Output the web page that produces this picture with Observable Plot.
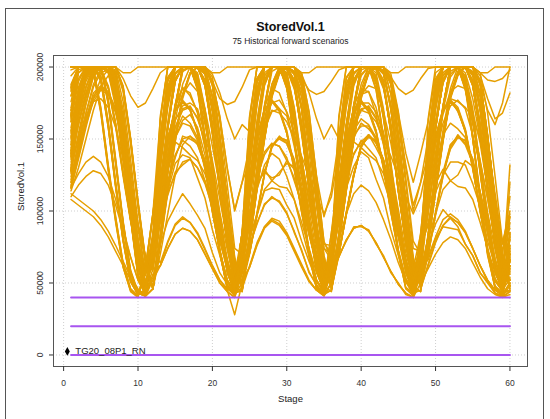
<!DOCTYPE html>
<html>
<head>
<meta charset="utf-8">
<script src="https://cdn.jsdelivr.net/npm/d3@7"></script>
<script src="https://cdn.jsdelivr.net/npm/@observablehq/plot@0.6"></script>
<style>
  html, body { margin: 0; padding: 0; background: #fff; }
  #wrap { position: relative; width: 550px; height: 419px; overflow: hidden; }
  #outer { position: absolute; left: 5px; top: 8px; width: 539px; height: 420px; border: 1px solid #555; box-sizing: border-box; }
  #chart { position: absolute; left: 0; top: 0; }
  text { font-family: "Liberation Sans", Arial, sans-serif; }
</style>
</head>
<body>
<div id="wrap"><div id="outer"></div><div id="chart"></div></div>
<script>
// ---- Text ----
const chartTitle = "StoredVol.1";
const chartSubtitle = "75 Historical forward scenarios";
const xTitle = "Stage";
const yTitle = "StoredVol.1";
const xTicks = [0, 10, 20, 30, 40, 50, 60];
const yTicks = [0, 50000, 100000, 150000, 200000];

// ---- Reference levels (purple) and marker ----
const thresholdLevels = [40000, 20000, 0];
const thresholdStages = [1, 60];
const markerStage = [0.5];
const markerValue = [2500];
const markerLabel = ["TG20_08P1_RN"];

// ---- Stages ----
const stages = d3.range(1, 61);

// ---- Scenario values, in thousands, stages 1..60 ----
const sc01 = [165,200,200,200,192,160,118,80,52,42,44,70, 140,185,200,200,200,200,190,160,118,78,48,85, 122,163,196,200,200,200,200,186,148,106,66,46, 84,130,174,200,200,200,200,191,150,104,63,48, 80,116,152,182,197,200,195,170,128,84,53,52];
const sc02 = [140,172,196,200,200,200,200,186,150,106,66,46, 76,113,148,178,195,200,197,174,133,88,56,52, 71,99,126,146,150,147,133,110,84,61,46,58, 108,148,168,175,171,156,131,101,73,53,45,66, 148,190,200,200,200,186,152,111,74,47,42,62];
const sc03 = [185,200,200,200,200,176,134,92,58,43,41,46, 83,129,172,200,200,200,200,188,150,107,65,48, 79,117,151,181,196,200,197,172,131,87,54,52, 81,127,170,198,200,200,200,189,151,105,62,47, 70,97,124,144,153,147,136,113,85,61,47,60];
const sc04 = [128,168,198,200,200,200,196,150,96,55,43,80, 166,200,200,200,200,194,168,128,88,57,43,70, 131,176,200,200,200,187,149,107,69,46,43,45, 72,99,124,146,151,149,134,111,87,63,48,58, 138,183,200,200,200,200,189,161,117,77,48,85];
const sc05 = [200,200,200,198,170,130,94,62,45,41,60,98, 142,186,200,200,200,200,191,158,116,77,47,85, 163,200,200,200,200,196,171,131,91,59,45,70, 151,193,200,200,200,184,151,109,71,46,41,62, 121,161,194,200,200,200,200,187,151,109,69,46];
const sc06 = [118,140,162,180,186,182,170,148,118,90,68,60, 110,150,170,176,170,155,130,100,72,52,44,66, 150,192,200,200,200,185,150,110,72,46,42,62, 96,131,159,171,172,164,147,121,91,63,47,44, 78,114,149,179,195,200,196,173,131,86,56,54];
const sc07 = [150,178,195,200,198,186,160,126,94,72,61,78, 132,176,200,200,200,189,151,109,71,48,44,45, 84,130,173,200,200,200,200,189,150,106,63,48, 77,114,151,181,195,200,197,171,129,85,54,52, 69,98,126,143,151,149,134,111,85,62,46,57];
const sc08 = [168,200,200,200,190,158,116,79,51,42,45,72, 64,79,91,96,92,84,73,62,52,46,42,50, 82,128,171,200,200,200,200,190,153,107,64,48, 79,116,150,181,196,200,196,172,130,86,55,52, 80,127,172,200,200,200,200,189,150,104,62,70];
const sc09 = [138,170,194,200,200,200,200,184,148,104,64,46, 70,98,125,146,152,148,135,112,86,62,47,58, 111,151,170,177,171,154,129,99,71,51,44,66, 164,200,200,200,200,196,171,131,89,57,44,70, 129,174,200,200,200,189,151,109,71,48,43,45];
const sc10 = [183,200,200,200,200,178,136,93,59,44,41,46, 79,116,151,180,196,200,195,171,129,85,54,52, 61,77,89,94,91,84,73,62,51,45,42,50, 83,129,173,200,200,200,200,191,151,105,63,48, 84,131,173,200,200,200,200,188,149,103,61,48];
const sc11 = [126,166,197,200,200,200,197,152,98,56,44,80, 112,151,169,177,171,156,131,101,71,52,44,66, 139,184,200,200,200,200,191,161,119,79,49,85, 119,159,196,200,200,200,200,189,149,107,67,46, 63,79,90,96,92,85,74,62,51,45,42,50];
const sc12 = [200,200,200,196,168,128,92,61,44,40,58,96, 151,191,200,200,200,186,151,111,73,47,42,62, 94,129,157,169,171,166,149,123,93,65,48,44, 79,115,149,178,196,200,197,173,132,87,56,52, 72,99,127,146,152,146,133,110,84,60,46,59];
const sc13 = [200,200,200,200,200,200,200,196,196,200,200,200, 200,200,200,200,200,200,200,196,196,200,200,200, 200,200,200,200,200,200,200,196,196,200,200,200, 200,200,200,200,200,200,200,196,196,200,200,200, 200,200,200,200,200,200,200,196,196,200,200,200];
const sc14 = [180,196,200,200,200,200,200,192,180,172,175,185, 196,200,200,200,200,200,200,190,178,174,176,186, 198,200,200,200,200,200,200,192,184,181,183,190, 198,200,200,200,200,200,200,193,185,181,184,192, 199,200,200,200,200,200,200,196,191,190,192,198];
const sc15 = [116,138,160,176,184,181,168,146,117,89,67,58, 96,131,158,171,173,164,149,122,92,64,47,44, 82,127,172,200,200,200,200,190,151,106,64,48, 77,115,149,180,197,200,196,171,129,86,55,52, 82,129,171,200,200,200,200,190,153,107,65,82];
const sc16 = [152,180,196,200,197,185,158,124,93,71,60,78, 141,184,200,200,200,200,189,159,117,79,48,85, 166,200,200,200,200,194,169,129,89,58,44,70, 109,149,171,175,169,156,129,99,72,51,44,66, 139,186,200,200,200,200,190,160,119,78,48,85];
const sc17 = [162,200,200,200,194,162,120,82,53,43,45,70, 121,161,196,200,200,200,200,187,151,107,67,46, 62,78,89,95,93,85,74,63,52,45,41,50, 81,129,172,200,200,200,200,190,151,106,64,48, 79,116,150,179,196,200,196,172,130,86,55,52];
const sc18 = [142,174,197,200,200,200,200,187,151,107,67,46, 82,128,172,200,200,200,200,190,152,106,64,48, 70,98,125,145,151,149,136,112,86,62,47,58, 95,129,158,170,173,165,148,121,92,64,48,44, 83,128,172,200,200,200,200,190,152,106,64,48];
const sc19 = [186,200,200,200,200,175,133,91,57,43,41,46, 78,114,150,181,196,200,196,172,129,86,55,52, 71,97,126,145,152,147,135,111,86,63,47,58, 110,150,170,176,171,155,130,100,72,52,44,66, 131,175,200,200,200,188,150,108,70,47,43,45];
const sc20 = [130,170,199,200,200,200,195,148,95,54,42,80, 150,192,200,200,200,185,150,110,72,46,42,62, 110,149,170,177,170,156,131,100,72,52,44,66, 120,160,195,200,200,200,200,188,150,108,68,46, 62,78,90,95,92,85,74,62,52,45,42,50];
const sc21 = [200,200,200,199,172,132,96,63,46,41,61,98, 164,200,200,200,200,195,170,130,90,58,44,70, 140,185,200,200,200,200,190,160,118,78,48,85, 130,175,200,200,200,188,150,108,70,47,43,45, 82,128,172,200,200,200,200,190,152,106,64,48];
const sc22 = [148,176,194,200,199,187,161,127,95,73,62,78, 110,150,170,176,170,155,130,100,72,52,44,66, 165,200,200,200,200,195,170,130,90,58,44,70, 150,192,200,200,200,185,150,110,72,46,42,62, 112,152,171,177,172,157,131,102,73,53,45,67];
const sc23 = [167,200,200,200,191,158,117,80,51,42,44,70, 130,175,200,200,200,188,150,108,70,47,43,45, 78,115,150,180,196,200,196,172,130,86,55,52, 82,128,172,200,200,200,200,190,152,106,64,48, 76,113,148,178,194,200,195,170,128,84,54,50];
const sc24 = [120,142,164,182,187,183,171,149,119,91,69,60, 62,78,90,95,92,85,74,62,52,45,28,50, 61,76,88,93,90,83,72,61,51,45,41,50, 70,98,125,145,152,148,135,112,86,62,47,58, 110,150,170,176,170,155,130,100,72,52,44,66];
const sc25 = [139,171,195,200,200,200,200,185,149,105,65,46, 81,127,171,200,200,200,200,189,151,105,63,48, 83,129,173,200,200,200,200,191,153,107,65,48, 78,115,150,180,196,200,196,172,130,86,55,52, 82,128,172,200,200,200,200,190,152,106,64,80];
const sc26 = [127,167,197,200,200,200,196,151,97,56,43,80, 140,185,200,200,200,200,190,160,118,78,48,85, 130,175,200,200,200,188,150,108,70,47,43,45, 70,98,125,145,152,148,135,112,86,62,47,58, 118,170,200,200,200,185,150,110,72,46,42,62];
const sc27 = [200,200,200,200,200,200,195,170,130,88,55,85, 145,185,200,200,200,200,195,168,128,88,56,84, 150,190,200,200,200,200,200,195,182,164,150,160, 150,188,200,200,200,200,196,170,132,92,60,84, 140,180,200,200,200,200,200,190,170,160,175,200];
const sc28 = [155,182,198,200,200,198,178,142,100,64,44,66, 98,127,148,144,139,135,126,109,87,66,48,62, 96,127,163,188,200,200,200,193,162,118,74,70, 109,151,187,200,200,198,185,161,127,90,57,60, 81,98,115,121,117,116,108,92,74,57,46,52];
const sc29 = [128,152,175,193,200,200,192,160,118,75,47,74, 131,172,196,200,200,190,167,133,97,66,46,70, 109,151,187,200,200,198,185,161,127,90,57,70, 111,142,166,181,183,172,150,122,93,67,49,72, 118,158,190,200,200,200,188,155,115,78,50,76];
const sc30 = [170,196,200,200,200,200,185,148,106,66,45,72, 118,158,190,200,200,200,188,155,115,78,50,76, 96,127,163,188,200,200,200,193,162,118,74,66, 131,172,196,200,200,190,167,133,97,66,46,70, 144,184,200,200,200,200,196,179,148,112,77,88];
const sc31 = [108,104,100,96,90,82,72,62,52,45,41,52, 62,74,84,88,86,80,70,60,50,44,40,56, 81,98,115,121,117,116,108,92,74,57,46,56, 68,80,88,90,86,78,68,58,49,43,40,50, 60,70,78,82,80,74,64,54,46,42,40,44];
const sc32 = [188,200,200,200,200,200,182,146,104,66,44,76, 150,190,200,200,200,200,200,195,182,164,150,160, 155,192,200,200,200,196,172,135,96,64,45,70, 96,127,163,188,200,200,200,193,162,118,74,72, 135,180,200,200,200,192,165,128,90,60,44,62];
const sc33 = [140,165,186,200,200,200,190,156,114,72,46,72, 102,129,151,163,167,158,139,113,86,61,45,66, 144,184,200,200,200,200,196,179,148,112,77,76, 118,158,190,200,200,200,188,155,115,78,50,78, 120,150,170,178,176,172,165,150,126,100,78,98];
const sc34 = [116,136,158,178,192,198,190,160,118,76,48,64, 96,127,163,188,200,200,200,193,162,118,74,70, 118,158,190,200,200,200,188,155,115,78,50,66, 98,127,148,144,139,135,126,109,87,66,48,68, 131,172,196,200,200,190,167,133,97,66,46,72];
const sc35 = [198,200,200,200,200,200,190,154,112,72,47,78, 150,192,200,200,200,185,160,135,108,80,55,75, 112,145,172,185,182,168,145,118,90,64,46,70, 135,180,200,200,200,192,165,128,90,60,44,76, 90,122,156,185,200,200,200,196,168,124,78,64];
const sc36 = [132,150,166,176,178,172,158,136,108,80,56,66, 96,118,138,150,152,146,132,112,88,64,46,62, 90,122,156,185,200,200,200,196,168,124,78,70, 110,140,160,170,168,162,150,138,124,110,98,110, 135,172,196,200,200,196,178,150,116,82,56,70];
const sc37 = [172,198,200,200,200,200,186,150,106,66,44,74, 118,158,190,200,200,200,188,155,115,78,50,60, 75,92,104,110,106,98,86,72,58,48,42,58, 68,80,88,90,86,78,68,58,49,43,40,56, 118,158,190,200,200,200,188,155,115,78,50,68];
const sc38 = [122,148,174,194,200,200,194,166,124,80,50,70, 112,145,172,185,182,168,145,118,90,64,46,72, 135,180,200,200,200,192,165,128,90,60,44,70, 118,158,190,200,200,200,188,155,115,78,50,80, 150,192,200,200,200,185,160,135,108,80,55,68];
const sc39 = [184,200,200,200,200,177,135,92,58,43,41,46, 82,128,172,200,200,200,200,190,152,106,64,48, 78,115,150,180,196,200,196,172,130,86,55,52, 70,98,125,145,152,148,135,112,86,62,47,58, 110,150,170,176,170,155,130,100,72,52,44,66];
const sc40 = [200,200,200,197,169,129,93,61,45,41,59,97, 120,160,195,200,200,200,200,188,150,108,68,46, 80,117,152,182,197,200,195,170,128,84,54,52, 84,130,173,200,200,200,200,189,150,104,62,48, 76,113,149,179,195,200,197,173,131,87,56,53];
const sc41 = [151,179,196,200,198,186,160,126,94,72,61,78, 151,192,200,200,200,184,149,111,73,47,42,62, 109,151,171,176,169,154,129,101,73,52,44,66, 141,185,200,200,200,200,191,159,117,77,48,85, 129,174,200,200,200,189,151,107,69,47,43,45];
const sc42 = [164,200,200,200,193,161,119,81,52,42,44,70, 163,200,200,200,200,196,171,131,91,57,44,70, 121,159,194,200,200,200,200,189,151,109,69,46, 71,97,124,146,153,148,134,111,87,63,47,58, 111,149,171,175,171,156,129,101,71,53,44,66];
const sc43 = [141,173,196,200,200,200,200,186,150,106,66,46, 95,130,158,170,172,165,148,122,92,64,48,44, 77,116,151,179,195,200,197,171,131,85,56,52, 83,127,171,200,200,200,200,191,151,107,63,48, 69,99,124,146,151,149,136,111,87,61,47,58];
const sc44 = [200,200,200,200,200,200,198,176,136,92,56,82, 140,180,200,200,200,200,200,190,165,130,100,120, 145,184,200,200,200,200,197,183,158,124,96,114, 150,188,200,200,200,200,200,192,168,140,120,140, 162,196,200,200,200,200,200,194,178,164,168,182];
const sc45 = [129,169,198,200,200,200,195,149,96,55,43,80, 131,174,200,200,200,187,151,107,71,46,43,45, 81,129,171,200,200,200,200,189,153,105,65,48, 79,114,151,179,197,200,195,173,129,87,54,52, 83,127,173,200,200,200,200,191,151,107,63,48];
const sc46 = [117,139,161,178,185,182,169,147,118,90,68,60, 111,149,171,175,171,154,131,99,73,51,45,66, 119,161,194,200,200,200,200,187,151,107,69,46, 69,99,126,144,153,147,136,113,85,63,46,58, 109,151,169,177,169,156,131,99,73,51,45,66];
const sc47 = [187,200,200,200,200,174,132,90,57,43,41,46, 77,116,149,181,195,200,197,171,131,85,56,52, 71,97,126,144,151,149,134,113,85,63,46,58, 112,149,171,177,169,154,131,99,71,53,43,66, 164,200,200,200,200,194,171,129,91,57,45,70];
const sc48 = [200,200,200,200,171,131,95,64,46,41,60,98, 139,186,200,200,200,200,189,161,117,79,47,85, 131,174,200,200,200,189,149,109,69,48,42,45, 81,129,171,200,200,200,200,189,153,105,65,48, 79,114,151,181,195,200,195,171,131,85,54,52];
const sc49 = [166,200,200,200,192,159,117,79,51,42,44,70, 149,193,200,200,200,186,149,111,71,47,41,62, 109,151,169,177,171,154,131,99,73,51,45,66, 166,200,200,200,200,194,169,131,89,59,43,70, 119,161,194,200,200,200,200,189,149,109,67,46];
const sc50 = [137,169,193,200,200,200,200,183,147,103,63,46, 83,127,173,200,200,200,200,189,151,107,63,48, 77,116,149,181,197,200,195,171,129,87,54,52, 81,129,171,200,200,200,200,191,153,105,65,48, 78,115,150,180,196,200,196,172,130,86,60,96];
const sc51 = [162,190,200,200,200,196,172,134,94,60,43,70, 100,121,139,149,145,137,121,105,83,63,47,66, 148,189,200,200,200,187,162,136,106,78,54,72, 106,133,151,161,157,151,135,111,89,64,48,70, 98,140,170,193,200,200,200,182,138,94,57,56];
const sc52 = [144,170,190,200,200,200,190,158,116,74,47,70, 102,137,174,198,200,200,199,179,141,96,59,70, 117,156,190,200,200,200,186,156,116,77,51,76, 142,182,200,200,200,200,198,188,162,132,104,120, 138,176,200,200,200,200,196,174,140,104,78,100];
const sc53 = [112,108,104,100,94,86,76,65,54,46,41,54, 77,93,103,112,105,97,88,71,57,49,42,58, 82,97,114,116,115,104,95,79,65,52,43,56, 98,117,140,148,153,144,134,110,89,63,46,62, 66,81,89,88,87,77,69,57,50,43,40,42];
const sc54 = [176,200,200,200,200,198,176,138,96,62,43,72, 136,181,200,200,200,190,166,126,91,59,44,70, 110,141,163,175,177,169,155,129,101,71,51,68, 117,159,188,200,200,200,189,154,116,77,50,76, 114,146,167,183,187,185,169,147,115,85,57,92];
const sc55 = [138,162,182,196,200,200,188,154,112,72,46,70, 116,158,192,200,200,200,187,156,114,79,50,74, 120,157,190,200,200,200,189,153,116,76,51,66, 94,116,131,141,137,122,109,87,69,51,42,66, 119,157,191,200,200,200,187,156,113,77,49,72];
const sc56 = [154,182,200,200,200,200,188,152,110,70,46,74, 93,111,127,132,136,130,121,101,81,60,46,62, 99,119,127,123,125,135,129,115,91,69,49,64, 119,156,190,200,200,200,188,157,114,79,51,80, 134,182,200,200,200,190,166,126,89,59,44,66];
const sc57 = [124,146,168,186,196,198,188,158,116,74,47,68, 95,119,137,152,150,147,131,113,87,65,46,62, 76,91,105,109,107,99,85,73,57,49,42,64, 101,137,173,195,200,200,200,181,139,96,58,72, 117,159,189,200,200,200,189,154,116,77,51,62];
const sc58 = [186,200,200,200,200,200,176,138,96,62,43,74, 117,159,190,200,200,200,189,154,116,77,49,70, 91,121,157,184,200,200,200,195,169,123,79,66, 97,125,139,149,143,137,121,105,83,65,48,66, 111,139,161,173,177,171,153,131,99,73,50,82];
const sc59 = [146,168,186,198,200,196,176,142,102,66,45,72, 134,181,200,200,200,191,166,127,89,61,44,72, 119,157,191,200,200,200,187,156,114,79,50,64, 69,79,89,89,87,77,69,57,50,42,40,58, 101,137,173,195,200,200,200,181,139,96,58,52];
const sc60 = [200,200,200,200,200,198,180,144,102,66,45,78, 116,146,169,181,189,183,171,145,117,83,56,72, 150,192,200,200,200,185,160,135,108,80,55,75, 104,131,153,159,159,149,135,111,89,64,49,70, 118,158,190,200,200,200,188,155,115,78,50,60];
const sc61 = [134,160,182,198,200,200,192,162,120,78,48,70, 101,139,171,197,200,200,200,179,141,94,59,72, 136,179,200,200,200,193,164,129,89,61,44,70, 113,144,173,184,183,167,146,117,91,63,47,70, 119,157,191,200,200,200,187,156,114,77,49,74];
const sc62 = [116,126,134,138,134,124,108,88,68,52,42,60, 93,114,133,139,137,123,109,87,69,51,42,62, 119,157,189,200,200,200,187,156,116,77,51,74, 117,159,191,200,200,200,189,154,114,79,49,60, 76,91,101,95,89,77,69,57,51,43,41,48];
const sc63 = [166,192,200,200,200,200,186,150,108,68,45,72, 119,157,191,200,200,200,187,156,114,79,50,76, 110,140,160,170,168,162,150,138,124,110,98,110, 140,180,200,200,200,200,200,190,165,130,100,120, 150,188,200,200,200,200,194,170,136,100,72,96];
const sc64 = [156,184,200,200,200,200,184,148,106,68,45,70, 136,179,200,200,200,193,164,129,91,59,45,68, 99,117,129,121,127,133,131,113,93,67,51,64, 134,181,200,200,200,191,166,127,89,61,44,74, 92,113,125,134,134,132,119,103,79,62,46,66];
const sc65 = [120,144,168,188,198,200,192,162,120,78,48,66, 104,133,154,166,161,151,129,106,79,59,43,72, 151,191,200,200,200,186,159,136,107,81,54,75, 119,157,191,200,200,200,187,156,114,79,50,78, 134,181,200,200,200,191,166,127,89,61,44,84];
const sc66 = [180,200,200,200,200,200,184,148,106,68,45,74, 141,179,200,200,200,200,200,189,166,129,101,120, 134,181,200,200,200,191,166,127,89,61,44,70, 91,121,157,184,200,200,200,195,169,123,79,70, 136,179,200,200,200,193,164,129,91,59,45,70];
const sc67 = [142,166,186,200,200,200,186,152,110,70,46,70, 109,139,163,173,175,171,153,131,99,73,49,68, 120,157,191,200,200,200,187,156,114,79,50,76, 136,179,200,200,200,193,164,129,91,59,45,72, 106,131,153,161,157,151,133,113,87,66,47,74];
const sc68 = [110,118,124,128,126,118,104,86,68,52,42,56, 62,74,84,88,86,80,70,60,50,44,40,58, 92,115,132,140,136,124,108,88,68,52,42,60, 80,98,112,118,114,106,94,80,64,51,43,56, 68,82,94,98,94,86,74,62,52,45,41,44];
const sc69 = [194,200,200,200,200,200,188,152,110,70,46,76, 135,180,200,200,200,192,165,128,90,60,44,72, 97,123,141,147,145,135,123,103,85,63,49,66, 114,144,169,181,187,185,169,147,117,83,55,75, 118,158,190,200,200,200,188,155,115,78,50,120];
const sc70 = [136,160,180,194,200,198,184,150,108,68,45,70, 93,113,125,134,136,130,119,103,79,62,45,62, 121,156,188,200,200,200,191,157,116,76,51,76, 116,160,189,200,200,200,186,156,113,78,49,70, 101,119,129,121,125,135,131,113,93,67,51,66];
const sc71 = [170,196,200,200,200,200,190,156,114,72,46,74, 121,157,191,200,200,200,187,153,117,77,50,70, 134,181,200,200,200,190,166,128,89,61,43,68, 106,131,156,164,160,151,131,104,81,57,44,70, 133,180,200,200,200,193,164,127,91,59,45,76];
const sc72 = [128,154,178,196,200,200,190,156,114,72,46,72, 133,182,200,200,200,190,166,127,88,61,45,72, 99,139,170,197,200,200,200,179,141,94,59,70, 111,141,161,175,175,169,155,129,101,71,51,72, 152,190,200,200,200,184,162,134,109,79,56,132];
const sc73 = [158,186,200,200,200,200,182,146,104,66,44,72, 110,146,174,186,180,169,144,119,89,65,45,70, 120,156,191,200,200,200,187,157,114,79,49,74, 137,178,200,200,200,191,166,129,89,61,45,70, 98,139,171,197,200,200,200,181,139,96,57,70];
const sc74 = [146,172,192,200,200,200,192,162,122,80,50,74, 104,133,151,161,159,149,135,113,87,66,47,70, 99,123,139,147,145,137,121,105,83,65,47,72, 102,137,173,194,200,200,200,181,141,94,59,74, 120,157,191,200,200,200,187,156,114,79,52,80];
const sc75 = [114,130,150,170,186,194,188,160,118,76,48,66, 101,136,172,197,200,200,198,180,140,96,58,72, 136,179,200,200,200,193,164,129,89,61,45,74, 119,159,190,200,200,200,188,156,114,77,51,72, 121,160,189,200,200,200,191,160,126,92,71,110];

const scenarioSeries = [sc01,sc02,sc03,sc04,sc05,sc06,sc07,sc08,sc09,sc10,sc11,sc12,sc13,sc14,sc15,sc16,sc17,sc18,sc19,sc20,
  sc21,sc22,sc23,sc24,sc25,sc26,sc27,sc28,sc29,sc30,sc31,sc32,sc33,sc34,sc35,sc36,sc37,sc38,sc39,sc40,
  sc41,sc42,sc43,sc44,sc45,sc46,sc47,sc48,sc49,sc50,sc51,sc52,sc53,sc54,sc55,sc56,sc57,sc58,sc59,sc60,
  sc61,sc62,sc63,sc64,sc65,sc66,sc67,sc68,sc69,sc70,sc71,sc72,sc73,sc74,sc75];
const valueUnit = 1000;

// ---- Build tables ----
const scenarioRows = scenarioSeries.flatMap((vals, i) =>
  vals.map((v, j) => ({scenario: i + 1, stage: stages[j], value: v * valueUnit})));
const thresholdRows = thresholdLevels.flatMap((lv) =>
  thresholdStages.map((s) => ({level: lv, stage: s, value: lv})));
const markerRows = markerStage.map((s, i) => ({stage: s, value: markerValue[i], label: markerLabel[i]}));

const fmt = d3.format("d");
const ORANGE = "#E69F00";
const PURPLE = "#A855F0";

const chart = Plot.plot({
  width: 550,
  height: 419,
  marginLeft: 53,
  marginRight: 23,
  marginTop: 55,
  marginBottom: 53,
  style: {fontFamily: "'Liberation Sans', Arial, sans-serif", background: "transparent", overflow: "visible"},
  x: {domain: [-1.36, 62.36], label: null},
  y: {domain: [-8000, 208000], label: null},
  marks: [
    Plot.gridX(xTicks, {stroke: "#cfcfcf", strokeOpacity: 1, strokeDasharray: "1,2"}),
    Plot.gridY(yTicks, {stroke: "#cfcfcf", strokeOpacity: 1, strokeDasharray: "1,2"}),
    Plot.line(scenarioRows, {x: "stage", y: "value", z: "scenario", stroke: ORANGE, strokeWidth: 1.5, curve: "linear"}),
    Plot.line(thresholdRows, {x: "stage", y: "value", z: "level", stroke: PURPLE, strokeWidth: 2}),
    Plot.dot(markerRows, {x: "stage", y: "value", symbol: "diamond", r: 2.6, fill: "#000", stroke: "none"}),
    Plot.text(markerRows, {x: "stage", y: "value", text: "label", dx: 8, textAnchor: "start", fontSize: 9.5, fill: "#222"}),
    Plot.frame({stroke: "#555", strokeWidth: 1}),
    Plot.axisX(xTicks, {tickSize: 5, tickPadding: 8, fontSize: 8.5, stroke: "#333", color: "#333", tickFormat: fmt, label: null}),
    Plot.axisY(yTicks, {tickSize: 4, tickFormat: () => "", stroke: "#333", label: null}),
    Plot.text(yTicks, {y: (d) => d, text: (d) => fmt(d), frameAnchor: "left", dx: -13, rotate: -90, fontSize: 8.5, fill: "#333", textAnchor: "middle"}),
    Plot.text([xTitle], {frameAnchor: "bottom", dy: 35, fontSize: 9.5, fill: "#222"}),
    Plot.text([yTitle], {frameAnchor: "left", dx: -33, rotate: -90, fontSize: 9.5, fill: "#222"}),
    Plot.text([chartTitle], {frameAnchor: "top", dy: -33, lineAnchor: "top", fontSize: 12.5, fontWeight: "bold", fill: "#111"}),
    Plot.text([chartSubtitle], {frameAnchor: "top", dy: -18, lineAnchor: "top", fontSize: 8.5, fill: "#222"})
  ]
});
document.getElementById("chart").appendChild(chart);
</script>
</body>
</html>
